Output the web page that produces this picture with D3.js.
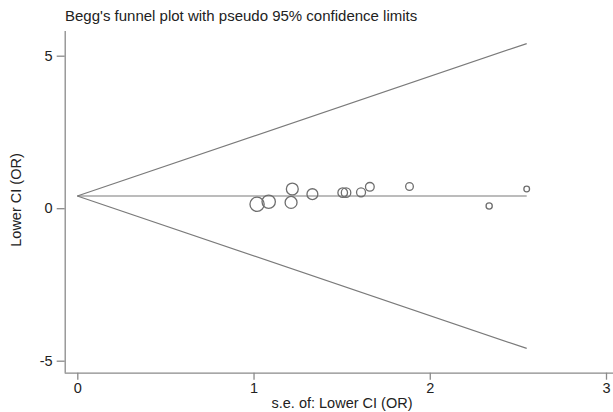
<!DOCTYPE html>
<html>
<head>
<meta charset="utf-8">
<script src="https://cdn.jsdelivr.net/npm/d3@7"></script>
<style>
  body { margin: 0; background: #fff; }
  text { font-family: "Liberation Sans", Arial, sans-serif; fill: #222; }
</style>
</head>
<body>
<div id="chart"></div>
<script>
// Begg's funnel plot

// study standard errors (x) and lower CI of OR (y)
const se = [1.02, 1.086, 1.22, 1.213, 1.334, 1.506, 1.525, 1.61, 1.66, 1.885, 2.337, 2.55]
const lowerCI = [0.13, 0.21, 0.63, 0.19, 0.46, 0.51, 0.51, 0.52, 0.70, 0.71, 0.07, 0.63]
const pooled = 0.40
const seMax = 2.55
const xTicks = [0, 1, 2, 3]
const yTicks = [-5, 0, 5]

const width = 613
const height = 412

const svg = d3.select('#chart')
  .append('svg')
  .attr('width', width)
  .attr('height', height)

const xScale = d3.scaleLinear()
  .domain([0, 2.55])
  .range([77.3, 526.7])

const yScale = d3.scaleLinear()
  .domain([-5, 5])
  .range([360.7, 55.7])

// marker size from inverse variance weight
const rScale = d3.scaleSqrt()
  .domain([0, 1 / (1.02 * 1.02)])
  .range([0, 7.1])

const axisColor = '#8a8a8a'
// plain hyphen for negatives, like the original
const fmt = d => String(d)

// title
svg.append('text')
  .attr('x', 65)
  .attr('y', 21)
  .style('font-size', '15px')
  .text("Begg's funnel plot with pseudo 95% confidence limits")

// axes
const xAxis = svg.append('g')
  .attr('transform', 'translate(0, 372.7)')
  .call(d3.axisBottom(xScale).tickValues(xTicks).tickSize(7).tickPadding(3).tickFormat(fmt))
xAxis.select('.domain').attr('d', `M64.7,0.5H${width}`)

const yAxis = svg.append('g')
  .attr('transform', 'translate(64.7, 0)')
  .call(d3.axisLeft(yScale).tickValues(yTicks).tickSize(8).tickPadding(4).tickFormat(fmt))
yAxis.select('.domain').attr('d', 'M0.5,31V372.7')

svg.selectAll('.domain, .tick line').attr('stroke', axisColor).attr('stroke-width', 1.3)
svg.selectAll('.tick text').style('font-size', '14.5px').attr('fill', '#222')

// axis labels
svg.append('text')
  .attr('x', 342)
  .attr('y', 408)
  .attr('text-anchor', 'middle')
  .style('font-size', '14.5px')
  .text('s.e. of: Lower CI (OR)')

svg.append('text')
  .attr('transform', 'translate(21, 200) rotate(-90)')
  .attr('text-anchor', 'middle')
  .style('font-size', '14.5px')
  .text('Lower CI (OR)')

// funnel lines
const lineColor = '#7a7a7a'
const funnel = [
  [[0, pooled], [seMax, pooled + 1.96 * seMax]],
  [[0, pooled], [seMax, pooled - 1.96 * seMax]],
  [[0, pooled], [seMax, pooled]]
]
const line = d3.line().x(d => xScale(d[0])).y(d => yScale(d[1]))
svg.selectAll('path.funnel')
  .data(funnel)
  .enter()
  .append('path')
  .attr('class', 'funnel')
  .attr('d', line)
  .attr('fill', 'none')
  .attr('stroke', lineColor)
  .attr('stroke-width', 1.2)

// study points
svg.selectAll('circle')
  .data(se.map((s, i) => ({ se: s, y: lowerCI[i] })))
  .enter()
  .append('circle')
  .attr('cx', d => xScale(d.se))
  .attr('cy', d => yScale(d.y))
  .attr('r', d => rScale(1 / (d.se * d.se)))
  .attr('fill', 'none')
  .attr('stroke', '#6e6e6e')
  .attr('stroke-width', 1.3)
</script>
</body>
</html>
